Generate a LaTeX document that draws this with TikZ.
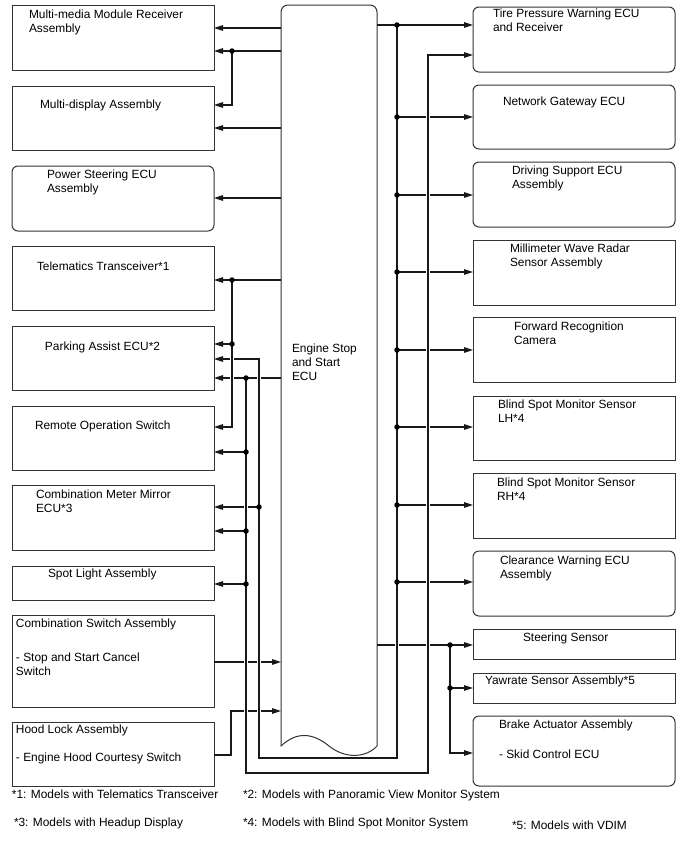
\documentclass[tikz,border=0pt]{standalone}
\usepackage{fontspec}
\setmainfont{Liberation Sans}
\usetikzlibrary{arrows.meta}
\newcommand\tstr{\rule{0pt}{10pt}}
\begin{document}
\begin{tikzpicture}[x=1pt,y=-1pt,
  box/.style={draw=black!80, line width=1pt, inner sep=0pt, outer sep=0pt, minimum width=202pt},
  rbox/.style={box, rounded corners=6pt},
  lbl/.style={anchor=north west, inner sep=0pt, outer sep=0pt, align=left, font=\fontsize{11.9}{14}\selectfont},
  con/.style={line width=1.2pt, black!90},
  arr/.style={con, -{Triangle[length=9pt,width=5.5pt]}},
  bus/.style={arr, preaction={draw=white, line width=3.8pt, -, shorten >=10pt}},
  dot/.style={circle, fill=black, inner sep=0pt, minimum size=5.5pt},
]
\fill[white] (0,0) rectangle (688,852);
\useasboundingbox (0,0) rectangle (688,852);

% ---------- left boxes ----------
\node[box,  minimum height=65pt] (mm) at (113,37.5) {};
\node[box,  minimum height=64pt] (md) at (113,118) {};
\node[rbox, minimum height=65pt] (ps) at (113,198.5) {};
\node[box,  minimum height=64pt] (tt) at (113,278) {};
\node[box,  minimum height=64pt] (pa) at (113,358) {};
\node[box,  minimum height=64pt] (ro) at (113,438) {};
\node[box,  minimum height=65pt] (cm) at (113,517.5) {};
\node[box,  minimum height=34pt] (sl) at (113,583) {};
\node[box,  minimum height=92pt] (cs) at (113,661) {};
\node[box,  minimum height=64pt] (hl) at (113,754) {};

% ---------- right boxes ----------
\node[rbox, minimum height=65pt] (tp) at (574,39.5) {};
\node[rbox, minimum height=64pt] (ng) at (574,117) {};
\node[rbox, minimum height=65pt] (ds) at (574,194.5) {};
\node[box,  minimum height=65pt] (mw) at (574,272.5) {};
\node[box,  minimum height=65pt] (fr) at (574,349.5) {};
\node[box,  minimum height=64pt] (bl) at (574,428) {};
\node[box,  minimum height=65pt] (br) at (574,505.5) {};
\node[rbox, minimum height=65pt] (cw) at (574,583.5) {};
\node[box,  minimum height=30pt] (ss) at (574,644) {};
\node[box,  minimum height=30pt] (ys) at (574,688) {};
\node[rbox, minimum height=70pt] (ba) at (574,751) {};

% ---------- ECU ----------
\node[inner sep=0pt, outer sep=0pt, minimum width=96pt, minimum height=741pt] (ecu) at (329,375.5) {};
\draw[box, rounded corners=7pt, line join=round] (ecu.south west) -- (ecu.north west) -- (ecu.north east) -- (ecu.south east);
\draw[box, line cap=round] (ecu.south west) .. controls (297,731) and (313,733) .. (329,746)
  .. controls (345,759) and (366,758) .. (ecu.south east);

% ---------- labels ----------
\node[lbl] (mm-t) at (29,8)  {\tstr Multi-media Module Receiver\\Assembly};
\node[lbl] (md-t) at (40,98) {\tstr Multi-display Assembly};
\node[lbl] (ps-t) at (47,168) {\tstr Power Steering ECU\\Assembly};
\node[lbl] (tt-t) at (37,260) {\tstr Telematics Transceiver*1};
\node[lbl] (pa-t) at (45,340) {\tstr Parking Assist ECU*2};
\node[lbl] (ro-t) at (35,419) {\tstr Remote Operation Switch};
\node[lbl] (cm-t) at (36,488) {\tstr Combination Meter Mirror\\ECU*3};
\node[lbl] (sl-t) at (48,567) {\tstr Spot Light Assembly};
\node[lbl] (cs-t) at (16,617) {\tstr Combination Switch Assembly\\[20pt]- Stop and Start Cancel\\Switch};
\node[lbl] (hl-t) at (16,723) {\tstr Hood Lock Assembly\\[14pt]- Engine Hood Courtesy Switch};

\node[lbl] (tp-t) at (493,7)   {\tstr Tire Pressure Warning ECU\\and Receiver};
\node[lbl] (ng-t) at (503,95)  {\tstr Network Gateway ECU};
\node[lbl] (ds-t) at (512,164) {\tstr Driving Support ECU\\Assembly};
\node[lbl] (mw-t) at (510,242) {\tstr Millimeter Wave Radar\\Sensor Assembly};
\node[lbl] (fr-t) at (514,320) {\tstr Forward Recognition\\Camera};
\node[lbl] (bl-t) at (498,398) {\tstr Blind Spot Monitor Sensor\\LH*4};
\node[lbl] (br-t) at (497,476) {\tstr Blind Spot Monitor Sensor\\RH*4};
\node[lbl] (cw-t) at (500,554) {\tstr Clearance Warning ECU\\Assembly};
\node[lbl] (ss-t) at (523,631) {\tstr Steering Sensor};
\node[lbl] (ys-t) at (485,674) {\tstr Yawrate Sensor Assembly*5};
\node[lbl] (ba-t) at (499,718) {\tstr Brake Actuator Assembly\\[16pt]- Skid Control ECU};

\node[lbl] (ecu-t) at (292,342) {\tstr Engine Stop\\and Start\\ECU};

\node[lbl] (f1) at (12,788)  {\tstr *1: Models with Telematics Transceiver};
\node[lbl] (f2) at (243,788) {\tstr *2: Models with Panoramic View Monitor System};
\node[lbl] (f3) at (14,816)  {\tstr *3: Models with Headup Display};
\node[lbl] (f4) at (243,816) {\tstr *4: Models with Blind Spot Monitor System};
\node[lbl] (f5) at (512,819) {\tstr *5: Models with VDIM};

% ---------- junction coordinates ----------
\coordinate (jA0) at (232,51);
\coordinate (jA1) at (232,280);
\coordinate (jA2) at (232,344);
\coordinate (jB0) at (246,378);
\coordinate (jB1) at (246,452);
\coordinate (jB2) at (246,531);
\coordinate (jB3) at (246,584);
\coordinate (jC1) at (259,507);
\coordinate (jR0) at (397,25);
\coordinate (jR1) at (397,117);
\coordinate (jR2) at (397,195);
\coordinate (jR3) at (397,272);
\coordinate (jR4) at (397,350);
\coordinate (jR5) at (397,427);
\coordinate (jR6) at (397,505);
\coordinate (jR7) at (397,582);
\coordinate (jS0) at (450,645);
\coordinate (jS1) at (450,688);

% ---------- plain connectors ----------
\draw[arr] (ecu.west |- 0,28)  -- (mm.east |- 0,28);
\draw[arr] (ecu.west |- 0,51)  -- (mm.east |- 0,51);
\draw[arr] (jA0) -- (232,105) -- (md.east |- 0,105);
\draw[arr] (ecu.west |- 0,128) -- (md.east |- 0,128);
\draw[arr] (ecu.west |- 0,198) -- (ps.east |- 0,198);
\draw[arr] (ecu.west |- 0,280) -- (tt.east |- 0,280);
\draw[arr] (jA2) -- (pa.east |- jA2);
\draw[arr] (ecu.west |- jB0) -- (pa.east |- jB0);
\draw[arr] (jB1) -- (ro.east |- jB1);
\draw[arr] (jC1) -- (cm.east |- jC1);
\draw[arr] (jB2) -- (cm.east |- jB2);
\draw[arr] (jB3) -- (sl.east |- jB3);
\draw[arr] (cs.east |- 0,662) -- (ecu.west |- 0,662);
\draw[arr] (hl.east |- 0,755) -- (231,755) -- (231,711) -- (ecu.west |- 0,711);

\draw[arr] (ecu.east |- jR0) -- (tp.west |- jR0);
\draw[arr] (jR1) -- (ng.west |- jR1);
\draw[arr] (jR2) -- (ds.west |- jR2);
\draw[arr] (jR3) -- (mw.west |- jR3);
\draw[arr] (jR4) -- (fr.west |- jR4);
\draw[arr] (jR5) -- (bl.west |- jR5);
\draw[arr] (jR6) -- (br.west |- jR6);
\draw[arr] (jR7) -- (cw.west |- jR7);
\draw[arr] (ecu.east |- jS0) -- (ss.west |- jS0);
\draw[arr] (jS1) -- (ys.west |- jS1);
\draw[arr] (jS0) -- (450,753) -- (ba.west |- 0,753);

% ---------- buses (drawn over, breaking crossed lines) ----------
\draw[bus] (jR0) -- (397,758) -- (259,758) -- (259,359) -- (pa.east |- 0,359);
\draw[bus] (jB0) -- (246,773) -- (428,773) -- (428,55) -- (tp.west |- 0,55);
\draw[bus] (jA1) -- (232,427) -- (ro.east |- 0,427);

% ---------- dots ----------
\foreach \j in {jA0,jA1,jA2,jB0,jB1,jB2,jB3,jC1,jR0,jR1,jR2,jR3,jR4,jR5,jR6,jR7,jS0,jS1}
  \node[dot] at (\j) {};
\end{tikzpicture}
\end{document}
